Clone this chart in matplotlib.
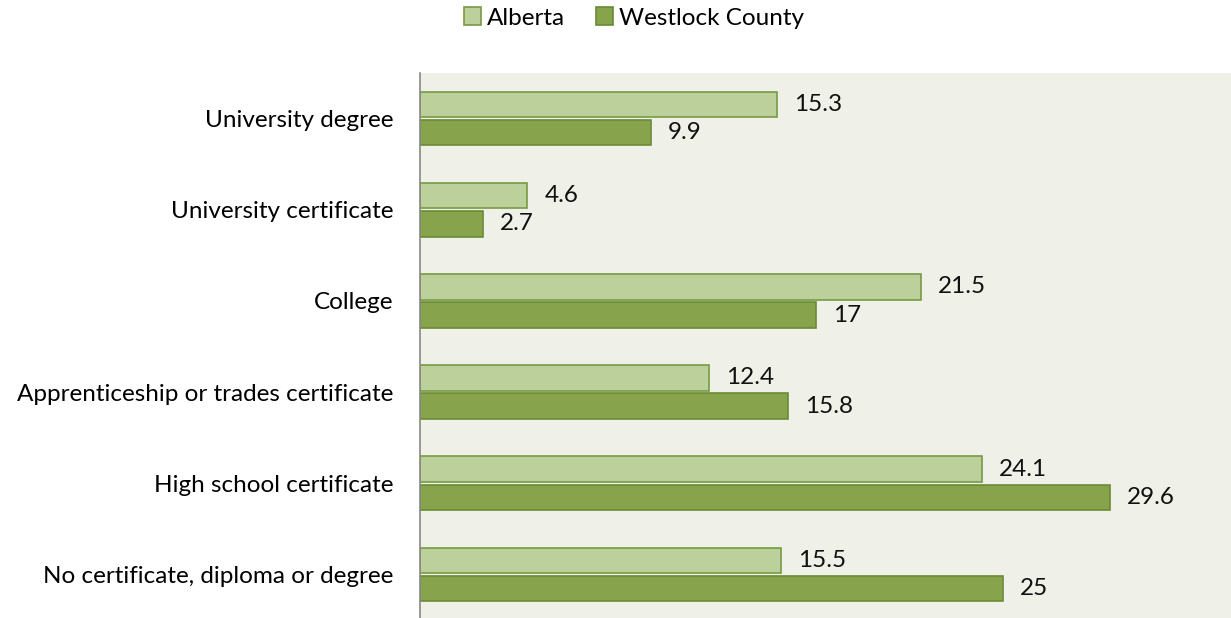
import matplotlib
matplotlib.use("Agg")
import matplotlib.pyplot as plt
import numpy as np

categories = ["University degree", "University certificate", "College",
              "Apprenticeship or trades certificate", "High school certificate",
              "No certificate, diploma or degree"]
alberta = [15.3, 4.6, 21.5, 12.4, 24.1, 15.5]
westlock = [9.9, 2.7, 17, 15.8, 29.6, 25]
series_names = ["Alberta", "Westlock County"]

plt.rcParams['font.family'] = ['Lato', 'DejaVu Sans']

W, H = 1231, 618
fig = plt.figure(figsize=(W/100, H/100), dpi=100)
left, right = 420, 1236
top, bottom = 73, 620
ax = fig.add_axes([left/W, 1 - bottom/H, (right-left)/W, (bottom-top)/H])
ax.set_facecolor("#EFF1E8")

y = np.arange(len(categories))
h = 0.28
c1, e1 = "#BBD09A", "#789A44"
c2, e2 = "#87A44D", "#6A8A35"
b1 = ax.barh(y - 0.155, alberta, height=h, color=c1, edgecolor=e1, linewidth=1.2, label=series_names[0])
b2 = ax.barh(y + 0.155, westlock, height=h, color=c2, edgecolor=e2, linewidth=1.2, label=series_names[1])

for bars, vals in ((b1, alberta), (b2, westlock)):
    for rect, v in zip(bars, vals):
        ax.annotate(f"{v:g}", (rect.get_width(), rect.get_y() + rect.get_height()/2),
                    xytext=(17, 0), textcoords="offset pixels",
                    va="center", ha="left", fontsize=17.5, color="#111111")

ax.set_xlim(0, 35)
ax.set_ylim(len(categories) - 0.5, -0.5)
ax.set_yticks(y)
ax.set_yticklabels(categories, fontsize=17.5)
ax.tick_params(axis='y', length=0, pad=19)
ax.set_xticks([])
for s in ("top", "right", "bottom"):
    ax.spines[s].set_visible(False)
ax.spines["left"].set_color("#888888")
ax.spines["left"].set_linewidth(1.2)

fig.legend(handles=[b1, b2], labels=series_names, loc="center", bbox_to_anchor=(634/W, 1 - 18/H),
           ncol=2, frameon=False, fontsize=17.5, handlelength=0.7, handleheight=0.7,
           handletextpad=0.25, columnspacing=1.3)

fig.savefig("out.png", dpi=100, facecolor="white")
